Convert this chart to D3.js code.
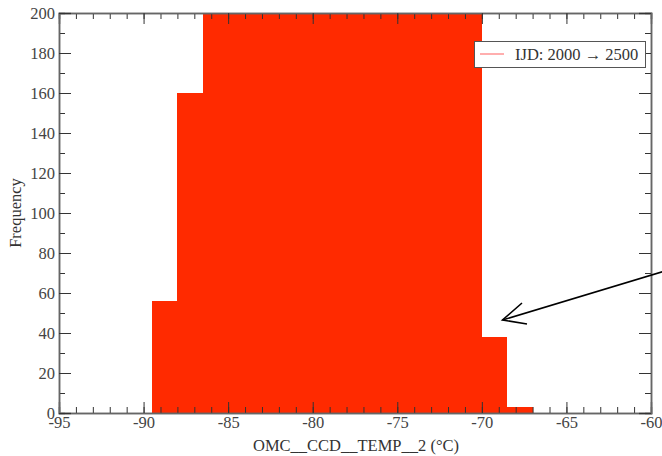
<!DOCTYPE html>
<html>
<head>
<meta charset="utf-8">
<script src="https://d3js.org/d3.v7.min.js"></script>
<style>
  body { margin: 0; background: #fff; }
  svg { display: block; }
  text { font-family: "Liberation Serif", "DejaVu Serif", serif; }
</style>
</head>
<body>
<svg width="662" height="456"></svg>
<script>
// histogram bins (left edges, width 1.5 degC) and counts
var binStarts = [-89.5, -88, -86.5, -85, -83.5, -82, -80.5, -79, -77.5, -76, -74.5, -73, -71.5, -70, -68.5];
var binWidth = 1.5;
var counts = [56, 160, 240, 280, 310, 330, 340, 345, 340, 330, 310, 280, 240, 38, 3];
var xTicks = [-95, -90, -85, -80, -75, -70, -65, -60];
var yTicks = [0, 20, 40, 60, 80, 100, 120, 140, 160, 180, 200];
var legendLabel = "IJD: 2000 \u2192 2500";

var svg = d3.select('svg');
var pLeft = 59, pRight = 651, pTop = 13, pBottom = 413;
var fs = '16.5px';

var x = d3.scaleLinear().domain([-95, -60]).range([pLeft, pRight]);
var y = d3.scaleLinear().domain([0, 200]).range([pBottom, pTop]);

svg.append('clipPath').attr('id', 'plot')
    .append('rect').attr('x', pLeft).attr('y', pTop)
    .attr('width', pRight - pLeft).attr('height', pBottom - pTop);

svg.append('g').attr('clip-path', 'url(#plot)')
    .selectAll('rect')
    .data(binStarts)
    .enter()
    .append('rect')
    .attr('x', function (d) { return Math.round(x(d)); })
    .attr('width', function (d) { return Math.round(x(d + binWidth)) - Math.round(x(d)); })
    .attr('y', function (d, i) { return y(counts[i]); })
    .attr('height', function (d, i) { return y(0) - y(counts[i]); })
    .attr('fill', '#ff2a00')
    .attr('shape-rendering', 'crispEdges');

// axes, ticks pointing inward, mirrored on top and right
function styleAxis(g) {
    g.select('.domain').attr('stroke', '#666').attr('stroke-width', 1.5);
    g.selectAll('.tick line').attr('stroke', '#333');
    g.selectAll('text').attr('fill', '#444').style('font-size', fs)
        .style('font-family', '"Liberation Serif", serif');
}

var fmt = function (d) { return String(d); };
var xMinor = d3.range(-95, -59, 1);
var yMinor = d3.range(0, 201, 10);

svg.append('g').attr('transform', 'translate(0,' + pBottom + ')')
    .call(d3.axisBottom(x).tickValues(xMinor).tickSize(-6).tickFormat(''))
    .call(styleAxis);
svg.append('g').attr('transform', 'translate(0,' + pBottom + ')')
    .call(d3.axisBottom(x).tickValues(xTicks).tickSize(-11).tickPadding(3).tickFormat(fmt))
    .call(styleAxis);
svg.append('g').attr('transform', 'translate(0,' + pTop + ')')
    .call(d3.axisTop(x).tickValues(xMinor).tickSize(-6).tickFormat(''))
    .call(styleAxis);
svg.append('g').attr('transform', 'translate(0,' + pTop + ')')
    .call(d3.axisTop(x).tickValues(xTicks).tickSize(-11).tickFormat(''))
    .call(styleAxis);

svg.append('g').attr('transform', 'translate(' + pLeft + ',0)')
    .call(d3.axisLeft(y).tickValues(yMinor).tickSize(-6).tickFormat(''))
    .call(styleAxis);
svg.append('g').attr('transform', 'translate(' + pLeft + ',0)')
    .call(d3.axisLeft(y).tickValues(yTicks).tickSize(-12).tickPadding(4).tickFormat(fmt))
    .call(styleAxis);
svg.append('g').attr('transform', 'translate(' + pRight + ',0)')
    .call(d3.axisRight(y).tickValues(yMinor).tickSize(-6).tickFormat(''))
    .call(styleAxis);
svg.append('g').attr('transform', 'translate(' + pRight + ',0)')
    .call(d3.axisRight(y).tickValues(yTicks).tickSize(-12).tickFormat(''))
    .call(styleAxis);

// axis titles
svg.append('text')
    .attr('x', 356).attr('y', 451)
    .attr('text-anchor', 'middle')
    .attr('fill', '#333').style('font-size', fs)
    .text('OMC__CCD__TEMP__2 (\u00b0C)');

svg.append('text')
    .attr('transform', 'translate(21,' + ((pTop + pBottom) / 2) + ') rotate(-90)')
    .attr('text-anchor', 'middle')
    .attr('fill', '#333').style('font-size', fs)
    .text('Frequency');

// legend
var lg = svg.append('g');
lg.append('rect').attr('x', 474.5).attr('y', 41.5).attr('width', 171).attr('height', 26)
    .attr('fill', '#fff').attr('stroke', '#555').attr('stroke-width', 1);
lg.append('line').attr('x1', 480).attr('x2', 504).attr('y1', 54).attr('y2', 54)
    .attr('stroke', '#ff7777').attr('stroke-width', 1.2);
lg.append('text').attr('x', 515).attr('y', 60)
    .attr('fill', '#333').style('font-size', fs)
    .text(legendLabel);

// annotation arrow
var tip = [502.5, 320];
svg.append('line').attr('x1', 668).attr('y1', 270).attr('x2', tip[0]).attr('y2', tip[1])
    .attr('stroke', '#000').attr('stroke-width', 1.6);
svg.append('path')
    .attr('d', 'M522,303 L' + tip[0] + ',' + tip[1] + ' L527,324')
    .attr('fill', 'none').attr('stroke', '#000').attr('stroke-width', 1.6);
</script>
</body>
</html>
